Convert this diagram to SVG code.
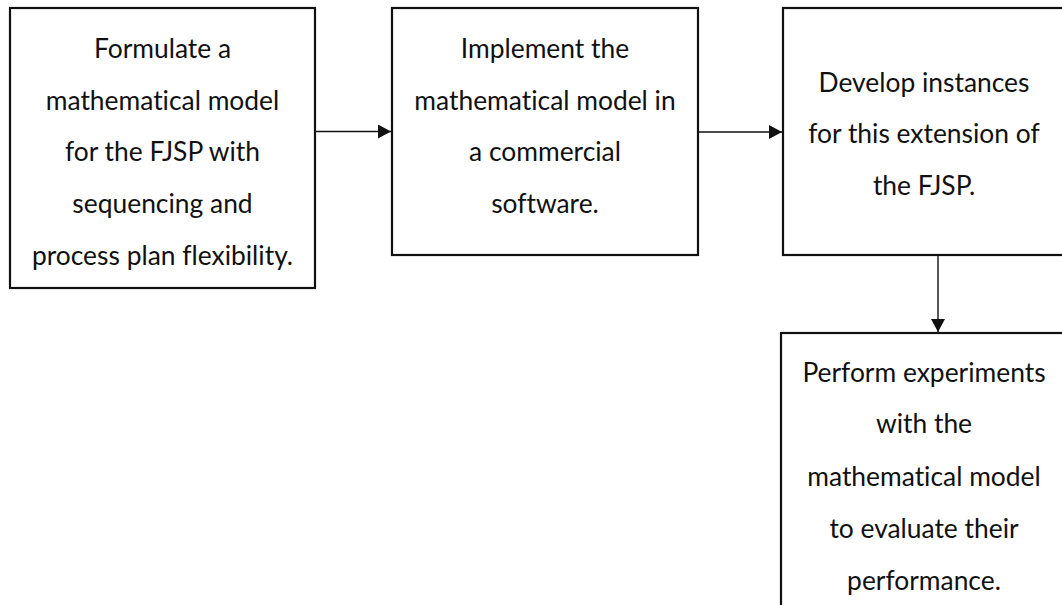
<svg xmlns="http://www.w3.org/2000/svg" width="1062" height="605" viewBox="0 0 1062 605">
  <style>
    .box { fill: #ffffff; stroke: #111111; stroke-width: 2.2; }
    .label { font-family: Lato, "Liberation Sans", sans-serif; font-size: 26.4px; fill: #111111; text-anchor: middle; font-variant-ligatures: none; }
    .link { stroke: #111111; stroke-width: 1.4; fill: none; }
  </style>
  <defs>
    <marker id="arrow" viewBox="0 0 13 14" refX="13" refY="7" markerWidth="13" markerHeight="14" markerUnits="userSpaceOnUse" orient="auto">
      <path d="M0,0 L13,7 L0,14 Z" fill="#111111"/>
    </marker>
  </defs>
  <rect width="1062" height="605" fill="#ffffff"/>

  <g id="connectors">
    <line class="link" x1="315" y1="131.5" x2="391" y2="131.5" marker-end="url(#arrow)"/>
    <line class="link" x1="698" y1="132" x2="782" y2="132" marker-end="url(#arrow)"/>
    <line class="link" x1="938" y1="255" x2="938" y2="332" marker-end="url(#arrow)"/>
  </g>

  <g id="formulate">
    <rect class="box" x="10" y="8" width="305" height="280"/>
    <text class="label" x="162.5" y="58">Formulate a</text>
    <text class="label" x="162.5" y="110">mathematical model</text>
    <text class="label" x="162.5" y="161">for the FJSP with</text>
    <text class="label" x="162.5" y="213">sequencing and</text>
    <text class="label" x="162.5" y="265">process plan flexibility.</text>
  </g>

  <g id="implement">
    <rect class="box" x="392" y="8" width="306" height="247"/>
    <text class="label" x="545" y="58">Implement the</text>
    <text class="label" x="545" y="110">mathematical model in</text>
    <text class="label" x="545" y="161">a commercial</text>
    <text class="label" x="545" y="213">software.</text>
  </g>

  <g id="develop">
    <rect class="box" x="783" y="8" width="284" height="247"/>
    <text class="label" x="924" y="92">Develop instances</text>
    <text class="label" x="924" y="143">for this extension of</text>
    <text class="label" x="924" y="195">the FJSP.</text>
  </g>

  <g id="experiments">
    <rect class="box" x="781" y="333" width="286" height="290"/>
    <text class="label" x="924" y="382">Perform experiments</text>
    <text class="label" x="924" y="433">with the</text>
    <text class="label" x="924" y="486">mathematical model</text>
    <text class="label" x="924" y="538">to evaluate their</text>
    <text class="label" x="924" y="590">performance.</text>
  </g>
</svg>
